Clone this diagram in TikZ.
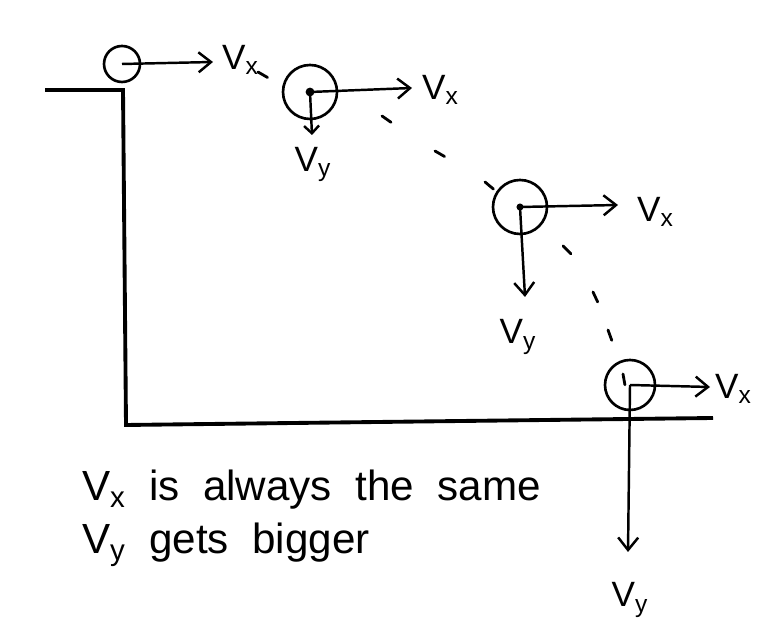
\documentclass[tikz,border=0pt]{standalone}
\usepackage{fontspec}
\setmainfont{Liberation Sans}
\usetikzlibrary{arrows.meta}

\tikzset{
  ball/.style={draw, circle, line width=1.5pt, inner sep=0pt},
  vel/.style={line width=1.4pt, -{Straight Barb[length=2.5mm,width=4mm]}},
  lbl/.style={font=\fontsize{20}{22}\selectfont, inner sep=1pt},
  note/.style={font=\fontsize{24}{26}\selectfont, inner sep=1pt},
  trail/.style={line width=1.6pt, line cap=round},
  ledge/.style={line width=2.2pt}
}

\begin{document}
\begin{tikzpicture}
            \useasboundingbox (0,0) rectangle (15.16,12.74);
            % table and floor
            \coordinate (edgeL) at (0.9,10.94);
            \coordinate (edgeR) at (2.46,10.94);
            \coordinate (floorL) at (2.52,4.24);
            \coordinate (floorR) at (14.26,4.38);
            \draw[ledge] (edgeL) -- (edgeR) -- (floorL) -- (floorR);

            % balls
            \node[ball, minimum size=0.72cm] (b1) at (2.44,11.46) {};
            \node[ball, minimum size=1.08cm] (b2) at (6.2,10.9) {};
            \node[ball, minimum size=1.08cm] (b3) at (10.4,8.6) {};
            \node[ball, minimum size=1.0cm] (b4) at (12.6,5.04) {};
            \fill (b2.center) circle (2.5pt);
            \fill (b3.center) circle (2pt);

            % arrow tips
            \coordinate (vx1) at (4.26,11.5);
            \coordinate (vx2) at (8.24,10.98);
            \coordinate (vy2) at (6.24,10.04);
            \coordinate (vx3) at (12.36,8.64);
            \coordinate (vy3) at (10.5,6.8);
            \coordinate (vx4) at (14.2,5.0);
            \coordinate (vy4) at (12.56,1.7);

            \draw[vel] (b1.center) -- (vx1);
            \draw[vel] (b2.center) -- (vx2);
            \draw[vel, -{Straight Barb[length=1.5mm,width=3mm]}] (b2.center) -- (vy2);
            \draw[vel] (b3.center) -- (vx3);
            \draw[vel] (b3.center) -- (vy3);
            \draw[vel] (b4.center) -- (vx4);
            \draw[vel] (b4.center) -- (vy4);

            % labels
            \node[lbl, anchor=west] (lx1) at (4.4,11.54) {V\textsubscript{x}};
            \node[lbl, anchor=west] (lx2) at (8.4,10.94) {V\textsubscript{x}};
            \node[lbl] (ly2) at (6.26,9.45) {V\textsubscript{y}};
            \node[lbl, anchor=west] (lx3) at (12.7,8.5) {V\textsubscript{x}};
            \node[lbl] (ly3) at (10.36,6.0) {V\textsubscript{y}};
            \node[lbl, anchor=west] (lx4) at (14.26,4.96) {V\textsubscript{x}};
            \node[lbl] (ly4) at (12.6,0.74) {V\textsubscript{y}};

            % path of the ball
            \foreach \x/\y/\a in {5.16/11.3/-30, 7.64/10.42/-35, 8.7/9.72/-30, 9.7/9.1/-40,
                                  11.26/7.82/-45, 11.86/6.9/-65, 12.16/6.14/-70, 12.46/5.26/-80}
              \draw[trail] (\x,\y) -- ++(\a:0.22);

            % note
            \node[note, anchor=west] (n1) at (1.6,2.94) {V\textsubscript{x}\ \ is\ \ always\ \ the\ \ same};
            \node[note, anchor=west] (n2) at (1.6,1.84) {V\textsubscript{y}\ \ gets\ \ bigger};
        \end{tikzpicture}
\end{document}
